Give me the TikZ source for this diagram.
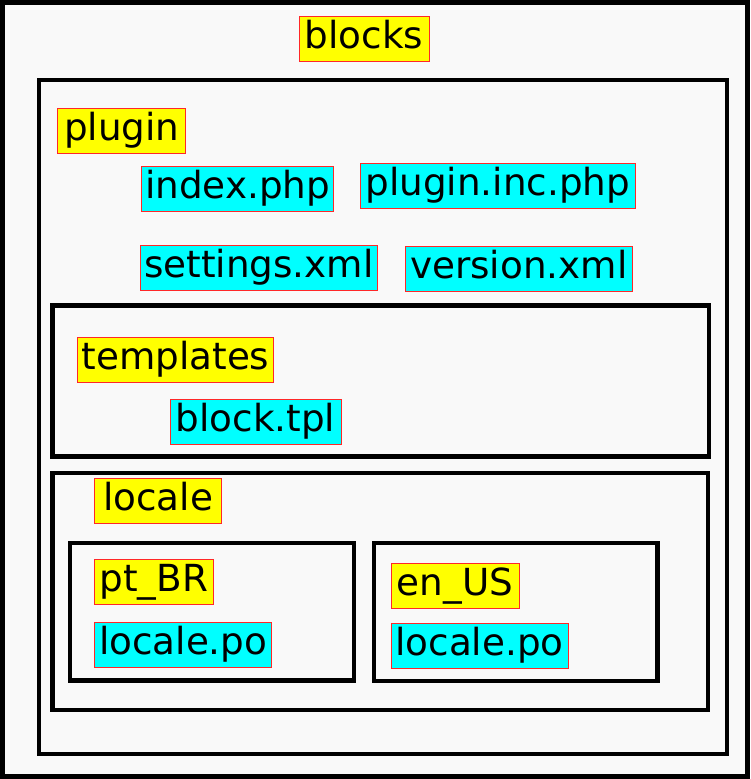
\documentclass[tikz,border=0pt]{standalone}
\usepackage{fontspec}
\setmainfont{DejaVu Sans}
\definecolor{bgc}{RGB}{249,249,249}
\definecolor{dirc}{RGB}{255,255,0}
\definecolor{filec}{RGB}{0,255,255}
\definecolor{edgec}{RGB}{255,40,40}
\tikzset{
  lbl/.style={draw=edgec, line width=0.8pt, inner xsep=0pt, inner ysep=0.5pt,
    text height=31.5pt, text depth=12.5pt, minimum width=#1,
    font=\fontsize{37.3}{40}\selectfont},
  dirlbl/.style={lbl=#1, fill=dirc},
  filelbl/.style={lbl=#1, fill=filec},
  cluster/.style={draw=black, line width=4.6pt, fill=bgc}
}
\begin{document}
\begin{tikzpicture}[x=1pt,y=-1pt]
\useasboundingbox (0,0) rectangle (750,779);
\fill[bgc] (0,0) rectangle (750,779);
% clusters
\draw[cluster, line width=5pt] (2.5,2.5) rectangle (747.5,776.5);
\draw[cluster] (39,80) rectangle (727,754);
\draw[cluster] (52.5,305.5) rectangle (709,456.7);
\draw[cluster] (52.3,473) rectangle (708,710);
\draw[cluster] (70,543) rectangle (354,680.5);
\draw[cluster] (374,543) rectangle (657.5,681);
% labels
\node[dirlbl=130pt] (blocks) at (364,39) {blocks};
\node[dirlbl=128pt] (plugin) at (121.7,130.5) {plugin};
\node[filelbl=192pt] (index) at (237.7,188.8) {index.php};
\node[filelbl=275.7pt] (plugininc) at (497.8,186.2) {plugin.inc.php};
\node[filelbl=237.7pt] (settings) at (258.8,267.8) {settings.xml};
\node[filelbl=227.7pt] (version) at (518.8,268.5) {version.xml};
\node[dirlbl=196.4pt] (templates) at (175.5,359.8) {templates};
\node[filelbl=171pt] (blocktpl) at (255.5,421.7) {block.tpl};
\node[dirlbl=127.4pt] (locale) at (158,500.7) {locale\hspace{7pt}};
\node[dirlbl=118.3pt] (ptbr) at (153.8,581.8) {pt\_BR};
\node[filelbl=177pt] (localeptbr) at (183.2,645) {locale.po};
\node[dirlbl=128pt] (enus) at (455,586.3) {en\_US};
\node[filelbl=177pt] (localeenus) at (479.5,645.8) {locale.po};
\end{tikzpicture}
\end{document}
